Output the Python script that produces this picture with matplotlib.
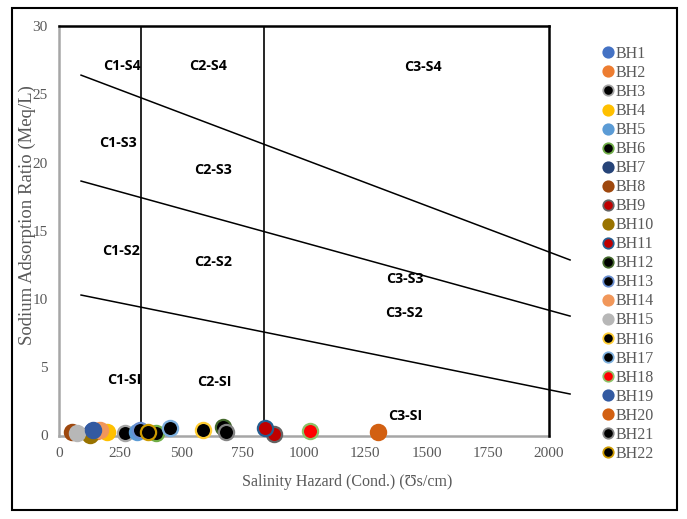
import matplotlib
matplotlib.use("Agg")
import matplotlib.pyplot as plt
from matplotlib.patches import Rectangle
from matplotlib.lines import Line2D

# ---- data ----
wells = ["BH1", "BH2", "BH3", "BH4", "BH5", "BH6", "BH7", "BH8", "BH9", "BH10", "BH11",
         "BH12", "BH13", "BH14", "BH15", "BH16", "BH17", "BH18", "BH19", "BH20", "BH21", "BH22"]
ec = [133, 155, 269, 195, 318, 396, 128, 52, 878, 127, 841,
      668, 330, 167, 72, 586, 453, 1024, 140, 1303, 682, 365]
sar = [0.35, 0.35, 0.15, 0.26, 0.22, 0.18, 0.12, 0.26, 0.10, 0.04, 0.52,
       0.65, 0.42, 0.40, 0.18, 0.40, 0.52, 0.35, 0.38, 0.28, 0.28, 0.28]
face = ["#4472C4", "#ED7D31", "#000000", "#FFC000", "#5B9BD5", "#000000", "#264478", "#9E480E",
        "#C00000", "#997300", "#C00000", "#000000", "#000000", "#F1975A", "#B7B7B7", "#000000",
        "#000000", "#FF0000", "#335AA1", "#D26012", "#000000", "#000000"]
edge = ["#4472C4", "#ED7D31", "#A5A5A5", "#FFC000", "#5B9BD5", "#70AD47", "#264478", "#9E480E",
        "#636363", "#997300", "#255E91", "#43682B", "#698ED0", "#F1975A", "#B7B7B7", "#FFCD33",
        "#7CAFDD", "#8CC168", "#335AA1", "#D26012", "#848484", "#CC9A00"]

# classification lines
class_x = [335, 835]
s_lines_x = [90, 2086]
s_lines_y = [[26.4, 12.86], [18.64, 8.75], [10.29, 3.04]]
zone_labels = ["C1-S4", "C2-S4", "C3-S4", "C1-S3", "C2-S3", "C3-S3",
               "C1-S2", "C2-S2", "C3-S2", "C1-SI", "C2-SI", "C3-SI"]
zone_x = [257, 608, 1486, 241, 629, 1412, 253, 629, 1408, 265, 633, 1412]
zone_y = [27.07, 27.1, 27.0, 21.4, 19.45, 11.5, 13.5, 12.7, 8.97, 4.07, 3.9, 1.43]

x_ticks = [0, 250, 500, 750, 1000, 1250, 1500, 1750, 2000]
y_ticks = [0, 5, 10, 15, 20, 25, 30]

serif = ["Liberation Serif", "DejaVu Serif"]
gray_txt = "#595959"

fig = plt.figure(figsize=(6.87, 5.19), dpi=100)
ax = fig.add_axes([59 / 687, 1 - 435.5 / 519, 490 / 687, 409.5 / 519])
ax.set_xlim(0, 2000)
ax.set_ylim(0, 30)

# class lines
for cx in class_x:
    ax.plot([cx, cx], [0, 30], color="black", lw=1.2, zorder=2)
for ys in s_lines_y:
    ax.plot(s_lines_x, ys, color="black", lw=1.1, clip_on=False, zorder=2)
# top & right borders
ax.plot([0, 2000], [30, 30], color="black", lw=1.8, clip_on=False, zorder=3)
ax.plot([2000, 2000], [0, 30], color="black", lw=1.8, clip_on=False, zorder=3)

for lab, zx, zy in zip(zone_labels, zone_x, zone_y):
    ax.text(zx, zy, lab, ha="center", va="center", fontsize=10.3, fontweight="bold",
            family=["Open Sans", "DejaVu Sans"], color="black")

handles = []
for i, w in enumerate(wells):
    ax.scatter([ec[i]], [sar[i]], s=120, c=face[i], edgecolors=edge[i], linewidths=1.6,
               zorder=5 + i, clip_on=False)
    handles.append(Line2D([], [], marker="o", ls="", markersize=7.5,
                          markerfacecolor=face[i], markeredgecolor=edge[i],
                          markeredgewidth=1.3, label=w))

for sp in ["top", "right"]:
    ax.spines[sp].set_visible(False)
for sp in ["left", "bottom"]:
    ax.spines[sp].set_color("#A6A6A6")
    ax.spines[sp].set_linewidth(1.8)

ax.set_xticks(x_ticks)
ax.set_yticks(y_ticks)
ax.set_xticklabels([str(t) for t in x_ticks], family=serif, fontsize=11, color=gray_txt)
ax.set_yticklabels([str(t) for t in y_ticks], family=serif, fontsize=11, color=gray_txt)
ax.tick_params(length=0, pad=8)

fig.text(347 / 687, 1 - 482 / 519, "Salinity Hazard (Cond.) (Ʊs/cm)", ha="center", va="center",
         family=serif, fontsize=11.5, color=gray_txt)
fig.text(27 / 687, 1 - 215 / 519, "Sodium Adsorption Ratio (Meq/L)", ha="center", va="center",
         rotation=90, family=serif, fontsize=13.5, color=gray_txt)

leg = fig.legend(handles=handles, loc="upper left", bbox_to_anchor=(603 / 687, 1 - 46 / 519),
                 frameon=False, prop={"family": serif, "size": 11.5}, labelcolor=gray_txt,
                 handlelength=0.6, handletextpad=0.2, labelspacing=0.19, borderaxespad=0,
                 borderpad=0)

fig.patches.append(Rectangle((12 / 687, 1 - 510 / 519), 665 / 687, 502 / 519,
                             transform=fig.transFigure, fill=False, edgecolor="black", lw=1.5))

fig.savefig("out.png", dpi=100)
